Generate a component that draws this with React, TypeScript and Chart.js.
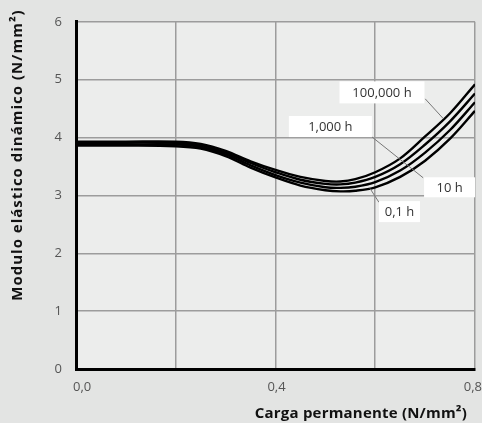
import { useEffect, useRef } from 'react';
import { Chart, registerables } from 'chart.js';

Chart.register(...registerables);

// Load (N/mm²)
const loads = [0, 0.1, 0.2, 0.25, 0.3, 0.35, 0.4, 0.45, 0.5, 0.53, 0.56, 0.6, 0.65, 0.7, 0.75, 0.8];
// Dynamic elastic modulus (N/mm²) per load duration
const h01 = [3.86, 3.86, 3.85, 3.81, 3.68, 3.48, 3.31, 3.17, 3.09, 3.07, 3.08, 3.14, 3.32, 3.6, 3.98, 4.46];
const h10 = [3.88, 3.88, 3.88, 3.84, 3.71, 3.52, 3.35, 3.22, 3.14, 3.13, 3.15, 3.23, 3.43, 3.74, 4.13, 4.61];
const h1000 = [3.91, 3.91, 3.91, 3.87, 3.74, 3.56, 3.4, 3.27, 3.2, 3.19, 3.22, 3.32, 3.54, 3.88, 4.28, 4.76];
const h100000 = [3.93, 3.93, 3.93, 3.89, 3.77, 3.59, 3.44, 3.32, 3.25, 3.24, 3.28, 3.4, 3.64, 4.02, 4.42, 4.92];

const seriesNames = ['0,1 h', '10 h', '1,000 h', '100,000 h'];
const xTickLabels = ['0,0', '0,4', '0,8'];
const xTickValues = [0, 0.4, 0.8];
const yTitle = 'Modulo elástico dinámico (N/mm²)';
const xTitle = 'Carga permanente (N/mm²)';

// label boxes: centre (load, modulus), box size in px
const labelNames = ['100,000 h', '1,000 h', '10 h', '0,1 h'];
const labelX = [0.6135, 0.51, 0.749, 0.6486];
const labelY = [4.78, 4.19, 3.14, 2.72];
const labelW = [85, 83, 51, 41];
const labelH = [22, 21, 20, 21];
// leader lines (load, modulus) start -> end
const leaderX1 = [0.70, 0.5935, 0.5895];
const leaderY1 = [4.67, 4.01, 3.12];
const leaderX2 = [0.736, 0.696, 0.6075];
const leaderY2 = [4.33, 3.305, 2.88];

const FONT = '"Open Sans", "Noto Sans", sans-serif';

export default function App() {
  const ref = useRef<HTMLCanvasElement | null>(null);
  useEffect(() => {
    if (!ref.current) return;
    const bgPlugin = {
      id: 'bg',
      beforeDraw(chart: any) {
        const { ctx, chartArea } = chart;
        ctx.save();
        ctx.fillStyle = '#e3e4e3';
        ctx.fillRect(0, 0, chart.width, chart.height);
        ctx.fillStyle = '#ecedec';
        ctx.fillRect(chartArea.left, chartArea.top, chartArea.right - chartArea.left, chartArea.bottom - chartArea.top);
        ctx.restore();
      },
    };
    const annPlugin = {
      id: 'ann',
      afterDraw(chart: any) {
        const { ctx, scales } = chart;
        const xs = scales.x;
        const ys = scales.y;
        ctx.save();
        // leader lines
        ctx.strokeStyle = '#777';
        ctx.lineWidth = 1;
        for (let i = 0; i < leaderX1.length; i++) {
          ctx.beginPath();
          ctx.moveTo(xs.getPixelForValue(leaderX1[i]), ys.getPixelForValue(leaderY1[i]));
          ctx.lineTo(xs.getPixelForValue(leaderX2[i]), ys.getPixelForValue(leaderY2[i]));
          ctx.stroke();
        }
        // label boxes
        ctx.font = `13px ${FONT}`;
        ctx.textAlign = 'center';
        ctx.textBaseline = 'middle';
        for (let i = 0; i < labelNames.length; i++) {
          const cx = xs.getPixelForValue(labelX[i]);
          const cy = ys.getPixelForValue(labelY[i]);
          ctx.fillStyle = '#ffffff';
          ctx.fillRect(cx - labelW[i] / 2, cy - labelH[i] / 2, labelW[i], labelH[i]);
          ctx.fillStyle = '#333';
          ctx.fillText(labelNames[i], cx, cy + 1);
        }
        // x tick labels
        ctx.fillStyle = '#555';
        ctx.textBaseline = 'top';
        for (let i = 0; i < xTickValues.length; i++) {
          const px = xs.getPixelForValue(xTickValues[i]);
          const last = i === xTickValues.length - 1;
          ctx.textAlign = i === 0 ? 'left' : last ? 'right' : 'center';
          ctx.fillText(xTickLabels[i], i === 0 ? px - 3 : last ? px + 7 : px + 1, xs.top + 12);
        }
        // axis titles
        ctx.fillStyle = '#111';
        ctx.font = `bold 15px ${FONT}`;
        (ctx as any).letterSpacing = '0.2px';
        ctx.textAlign = 'right';
        ctx.textBaseline = 'middle';
        ctx.fillText(xTitle, 467, 414);
        (ctx as any).letterSpacing = '1px';
        ctx.translate(18, 155);
        ctx.rotate(-Math.PI / 2);
        ctx.textAlign = 'center';
        ctx.fillText(yTitle, 0, 0);
        (ctx as any).letterSpacing = '0px';
        ctx.restore();
      },
    };
    const series = [h01, h10, h1000, h100000];
    const chart = new Chart(ref.current, {
      type: 'line',
      data: {
        datasets: series.map((s, i) => ({
          label: seriesNames[i],
          data: loads.map((x, j) => ({ x, y: s[j] })),
          borderColor: '#000',
          borderWidth: 2.4,
          pointRadius: 0,
          tension: 0.35,
          fill: false,
        })),
      },
      options: {
        animation: false,
        responsive: false,
        devicePixelRatio: 1,
        layout: { padding: { top: 13, right: 7, left: 0, bottom: 0 } },
        plugins: { legend: { display: false }, tooltip: { enabled: false } },
        scales: {
          x: {
            type: 'linear',
            min: 0,
            max: 0.8,
            ticks: { stepSize: 0.2, display: false },
            grid: {
              drawTicks: false,
              lineWidth: 1.5,
              color: (c: any) => (c.tick && c.tick.value === 0 ? 'rgba(0,0,0,0)' : '#9c9c9c'),
            },
            border: { display: true, color: '#000', width: 3 },
            afterFit: (scale: any) => {
              scale.height = 54;
            },
          },
          y: {
            type: 'linear',
            min: 0,
            max: 6,
            ticks: {
              stepSize: 1,
              padding: 14,
              color: '#555',
              font: { family: FONT, size: 13 },
            },
            grid: {
              drawTicks: false,
              lineWidth: 1.5,
              color: (c: any) => (c.tick && c.tick.value === 0 ? 'rgba(0,0,0,0)' : '#9c9c9c'),
            },
            border: { display: true, color: '#000', width: 3 },
            afterFit: (scale: any) => {
              scale.width = 76;
            },
          },
        },
      },
      plugins: [bgPlugin, annPlugin],
    } as any);
    return () => chart.destroy();
  }, []);
  return (
    <div style={{ position: 'fixed', left: 0, top: 0, width: 482, height: 423, background: '#e3e4e3' }}>
      <canvas ref={ref} width={482} height={423} style={{ display: 'block', width: 482, height: 423 }} />
    </div>
  );
}
